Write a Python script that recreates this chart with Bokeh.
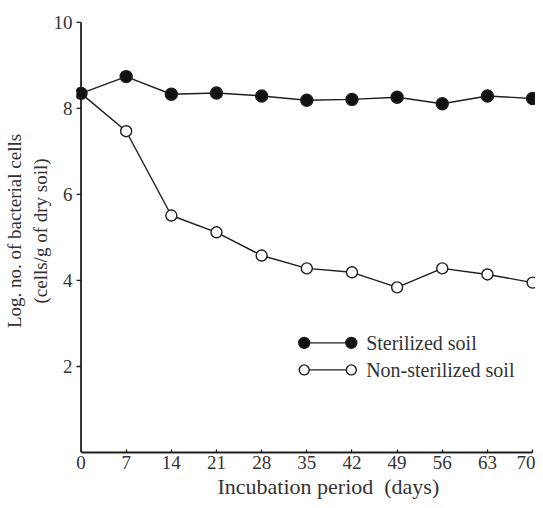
from bokeh.plotting import figure
from bokeh.models import Range1d, FixedTicker, ColumnDataSource, Title
from bokeh.core.properties import value
from bokeh.embed import file_html
from bokeh.resources import INLINE

# ---- data ----
days = [0, 7, 14, 21, 28, 35, 42, 49, 56, 63, 70]
sterilized = [8.35, 8.74, 8.33, 8.36, 8.29, 8.19, 8.21, 8.26, 8.11, 8.29, 8.23]
non_sterilized = [8.35, 7.47, 5.51, 5.12, 4.58, 4.28, 4.19, 3.84, 4.28, 4.14, 3.95]
x_ticks = [0, 7, 14, 21, 28, 35, 42, 49, 56, 63, 70]
y_ticks = [2, 4, 6, 8, 10]
series_names = ["Sterilized soil", "Non-sterilized soil"]
x_title = "Incubation period\u00a0 (days)"
y_title = "Log. no. of bacterial cells\n(cells/g of dry soil)"

FONT = "Liberation Serif"
INK = "#1e1e1e"
TXT = "#333333"

X0 = -0.7  # small left margin so the day-0 markers are not clipped
p = figure(width=535, height=500, output_backend="svg", toolbar_location=None,
           x_range=Range1d(X0, 70.45), y_range=Range1d(0, 10.3),
           min_border_left=76, min_border_right=0, min_border_top=9, min_border_bottom=48)
p.outline_line_color = None
p.xgrid.visible = False
p.ygrid.visible = False
p.background_fill_color = "white"

# axes
xa = p.xaxis[0]
xa.ticker = FixedTicker(ticks=x_ticks)
xa.bounds = (0, 70)
ya = p.yaxis[0]
ya.ticker = FixedTicker(ticks=y_ticks)
ya.axis_label = y_title
for ax in (xa, ya):
    ax.minor_tick_line_color = None
    ax.axis_line_color = INK
    ax.axis_line_width = 1.8
    ax.major_tick_line_color = INK
    ax.major_tick_line_width = 1.3
    ax.major_label_text_font = FONT
    ax.major_label_text_font_size = "19px"
    ax.major_label_text_color = TXT
    ax.axis_label_text_font = FONT
    ax.axis_label_text_font_size = "19px"
    ax.axis_label_text_font_style = "normal"
    ax.axis_label_text_color = TXT
xa.major_tick_in = 3
xa.major_tick_out = 0
xa.major_label_standoff = 3
# y axis: bokeh draws labels only; the rule and ticks are drawn at day 0 below
ya.axis_line_color = None
ya.major_tick_line_color = None
ya.major_tick_in = 0
ya.major_tick_out = 0
ya.major_label_standoff = 4
ya.axis_label_standoff = 0

# x-axis title, shifted right as in the original
p.add_layout(Title(text=x_title, align="left", offset=141, standoff=0,
                   text_font=FONT, text_font_size="22px", text_font_style="normal",
                   text_color=TXT), "below")

# y-axis rule and outward ticks at x = 0
tick_len = 0.8
p.segment(x0=[0], y0=[0], x1=[0], y1=[10], line_color=INK, line_width=1.8)
p.segment(x0=[0] * len(y_ticks), y0=y_ticks, x1=[-tick_len] * len(y_ticks), y1=y_ticks,
          line_color=INK, line_width=1.3)

src = ColumnDataSource(dict(x=days, s=sterilized, n=non_sterilized))

# non-sterilized (open circles)
p.line("x", "n", source=src, line_color=INK, line_width=1.4)
p.scatter("x", "n", source=src, size=11, marker="circle", fill_color="white",
          line_color=INK, line_width=1.4)
# sterilized (filled circles)
p.line("x", "s", source=src, line_color=INK, line_width=1.4)
p.scatter("x", "s", source=src, size=12, marker="circle", fill_color="#111111",
          line_color=INK, line_width=1.4)

# legend (drawn manually: marker-line-marker)
leg_x0, leg_x1, leg_tx = 34.6, 41.9, 44.2
leg_y = [2.55, 1.92]
fills = ["#111111", "white"]
sizes = [11, 10]
for yy, fc, sz, name in zip(leg_y, fills, sizes, series_names):
    p.line([leg_x0, leg_x1], [yy, yy], line_color=INK, line_width=1.4)
    p.scatter([leg_x0, leg_x1], [yy, yy], size=sz, marker="circle", fill_color=fc,
              line_color=INK, line_width=1.4)
    p.text([leg_tx], [yy], text=[name], text_font=value(FONT), text_font_size="20px",
           text_color=TXT, text_baseline="middle", text_align="left")

open("out.html", "w").write(file_html(p, INLINE))
